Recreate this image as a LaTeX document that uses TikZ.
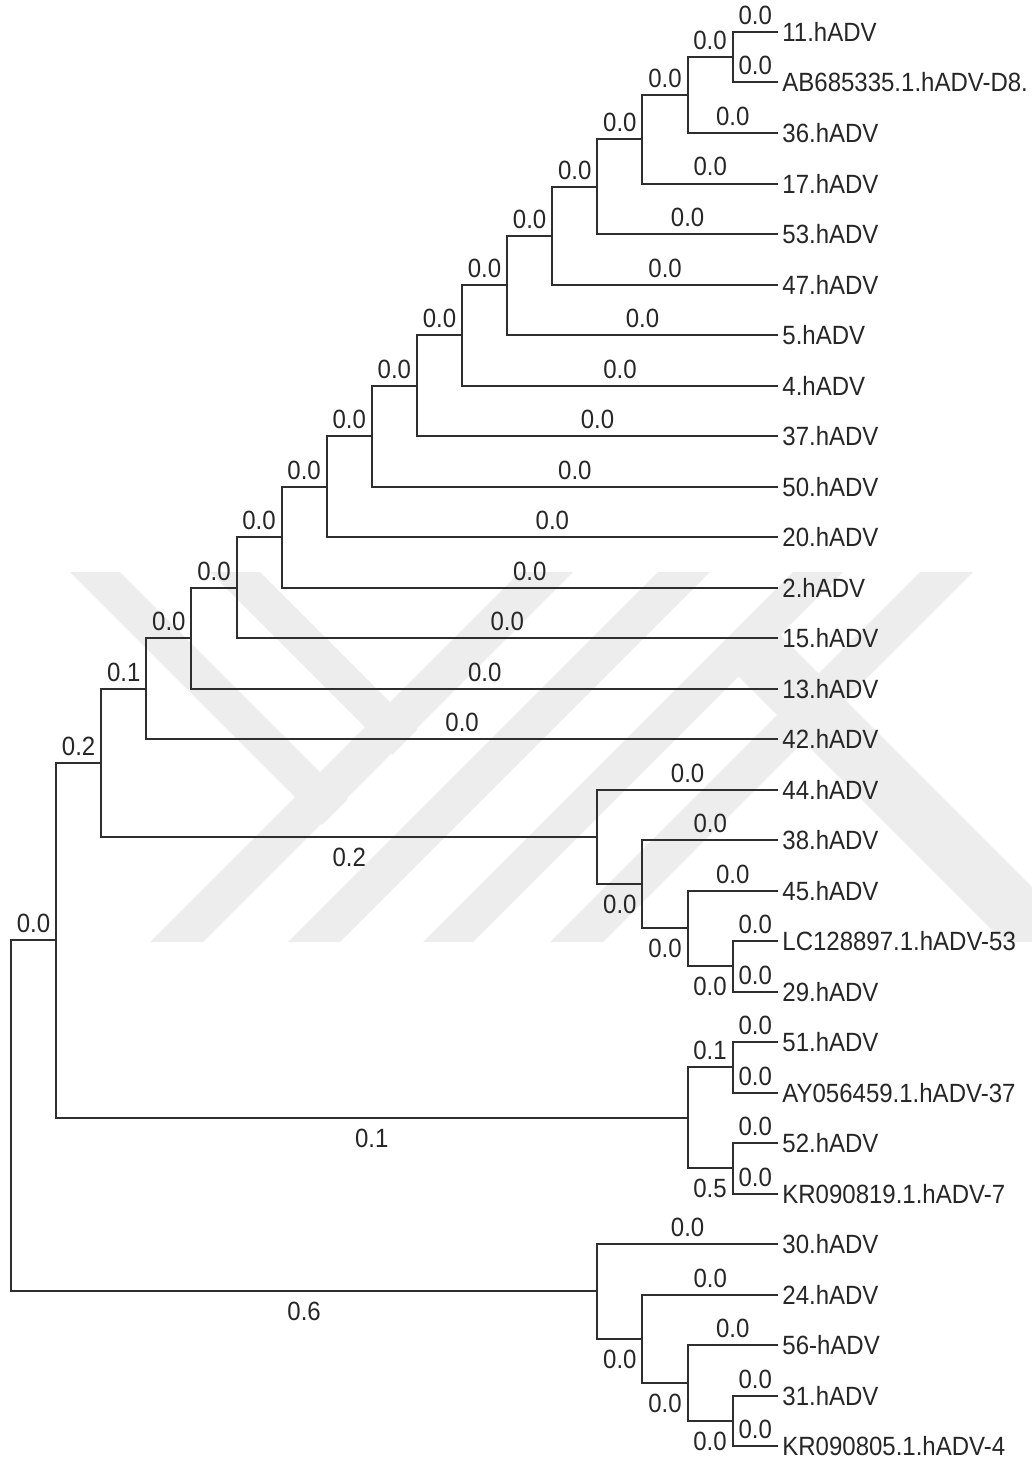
\documentclass[tikz,border=0pt]{standalone}
\usepackage{fontspec}
\usepackage{graphicx}
\setmainfont{Liberation Sans}
\newcommand\tx[1]{\scalebox{1}[1.1]{#1}}
\newcommand\mkleaf[3]{\coordinate (l#1) at (778,#2); \node[leaflbl] (t#1) at (782,#2+9.5) {\tx{#3}};}
\newcommand\lblup[4]{\node[brlbl] (#1) at (#2,#3-7.5) {\tx{#4}};}
\newcommand\lbldn[4]{\node[brlbl] (#1) at (#2,#3+29.5) {\tx{#4}};}
\begin{document}
\begin{tikzpicture}[x=0.5pt,y=-0.5pt,
  br/.style={line width=1pt, draw=black!82},
  leaflbl/.style={anchor=base west, inner sep=0pt, font=\fontsize{12}{14}\selectfont, text=black!85},
  brlbl/.style={anchor=base, inner sep=0pt, font=\fontsize{12}{14}\selectfont, text=black!85},
  wm/.style={fill=black!7, draw=none}]
\useasboundingbox (0,0) rectangle (1032,1461);
% watermark
\fill[wm] (70,572) -- (120,572) -- (347.5,799.5) -- (322.5,824.5) -- cycle;
\fill[wm] (210,572) -- (260,572) -- (417.5,729.5) -- (392.5,754.5) -- cycle;
\fill[wm] (150,942) -- (203,942) -- (573,572) -- (520,572) -- cycle;
\fill[wm] (288,942) -- (340,942) -- (710,572) -- (658,572) -- cycle;
\fill[wm] (423,942) -- (473,942) -- (843,572) -- (793,572) -- cycle;
\fill[wm] (550,942) -- (603,942) -- (973,572) -- (920,572) -- cycle;
\fill[wm] (738.5,676.5) -- (780,635) -- (1032,887) -- (1032,942) -- (1004,942) -- cycle;
% leaves
\mkleaf{0}{32}{11.hADV}
\mkleaf{1}{82.5}{AB685335.1.hADV-D8.}
\mkleaf{2}{133}{36.hADV}
\mkleaf{3}{183.5}{17.hADV}
\mkleaf{4}{234}{53.hADV}
\mkleaf{5}{284.5}{47.hADV}
\mkleaf{6}{335}{5.hADV}
\mkleaf{7}{385.5}{4.hADV}
\mkleaf{8}{436}{37.hADV}
\mkleaf{9}{486.5}{50.hADV}
\mkleaf{10}{537}{20.hADV}
\mkleaf{11}{587.5}{2.hADV}
\mkleaf{12}{638}{15.hADV}
\mkleaf{13}{688.5}{13.hADV}
\mkleaf{14}{739}{42.hADV}
\mkleaf{15}{789.5}{44.hADV}
\mkleaf{16}{840}{38.hADV}
\mkleaf{17}{890.5}{45.hADV}
\mkleaf{18}{941}{LC128897.1.hADV-53}
\mkleaf{19}{991.5}{29.hADV}
\mkleaf{20}{1042}{51.hADV}
\mkleaf{21}{1092.5}{AY056459.1.hADV-37}
\mkleaf{22}{1143}{52.hADV}
\mkleaf{23}{1193.5}{KR090819.1.hADV-7}
\mkleaf{24}{1244}{30.hADV}
\mkleaf{25}{1294.5}{24.hADV}
\mkleaf{26}{1345}{56-hADV}
\mkleaf{27}{1395.5}{31.hADV}
\mkleaf{28}{1446}{KR090805.1.hADV-4}
% internal nodes
\coordinate (A1) at (732.6,57.25);
\coordinate (A2) at (687.5,95.13);
\coordinate (A3) at (642.4,139.31);
\coordinate (A4) at (597.3,186.66);
\coordinate (A5) at (552.2,235.58);
\coordinate (A6) at (507.1,285.29);
\coordinate (A7) at (462,335.40);
\coordinate (A8) at (416.9,385.70);
\coordinate (A9) at (371.8,436.10);
\coordinate (A10) at (326.7,486.55);
\coordinate (A11) at (281.6,537.03);
\coordinate (A12) at (236.5,587.51);
\coordinate (A13) at (191.4,638.0);
\coordinate (A14) at (146.3,688.5);
\coordinate (B1) at (732.6,966.25);
\coordinate (B2) at (687.5,928.38);
\coordinate (B3) at (642.4,884.19);
\coordinate (B4) at (597.3,836.84);
\coordinate (C0) at (101.2,762.67);
\coordinate (D1) at (732.6,1067.25);
\coordinate (D2) at (732.6,1168.25);
\coordinate (D3) at (687.5,1117.75);
\coordinate (C1) at (56.1,940.21);
\coordinate (E1) at (732.6,1420.75);
\coordinate (E2) at (687.5,1382.88);
\coordinate (E3) at (642.4,1338.69);
\coordinate (E4) at (597.3,1291.34);
\coordinate (R) at (11,1115.78);
% branches
\draw[br] (l0) -| (A1) |- (l1);
\draw[br] (A1) -| (A2) |- (l2);
\draw[br] (A2) -| (A3) |- (l3);
\draw[br] (A3) -| (A4) |- (l4);
\draw[br] (A4) -| (A5) |- (l5);
\draw[br] (A5) -| (A6) |- (l6);
\draw[br] (A6) -| (A7) |- (l7);
\draw[br] (A7) -| (A8) |- (l8);
\draw[br] (A8) -| (A9) |- (l9);
\draw[br] (A9) -| (A10) |- (l10);
\draw[br] (A10) -| (A11) |- (l11);
\draw[br] (A11) -| (A12) |- (l12);
\draw[br] (A12) -| (A13) |- (l13);
\draw[br] (A13) -| (A14) |- (l14);
\draw[br] (l18) -| (B1) |- (l19);
\draw[br] (l17) -| (B2) |- (B1);
\draw[br] (l16) -| (B3) |- (B2);
\draw[br] (l15) -| (B4) |- (B3);
\draw[br] (A14) -| (C0) |- (B4);
\draw[br] (l20) -| (D1) |- (l21);
\draw[br] (l22) -| (D2) |- (l23);
\draw[br] (D1) -| (D3) |- (D2);
\draw[br] (C0) -| (C1) |- (D3);
\draw[br] (l27) -| (E1) |- (l28);
\draw[br] (l26) -| (E2) |- (E1);
\draw[br] (l25) -| (E3) |- (E2);
\draw[br] (l24) -| (E4) |- (E3);
\draw[br] (C1) -| (R) |- (E4);
% branch length labels: leaves
\lblup{v0}{755.3}{32}{0.0}
\lblup{v1}{755.3}{82.5}{0.0}
\lblup{v2}{732.75}{133}{0.0}
\lblup{v3}{710.2}{183.5}{0.0}
\lblup{v4}{687.65}{234}{0.0}
\lblup{v5}{665.1}{284.5}{0.0}
\lblup{v6}{642.55}{335}{0.0}
\lblup{v7}{620}{385.5}{0.0}
\lblup{v8}{597.45}{436}{0.0}
\lblup{v9}{574.9}{486.5}{0.0}
\lblup{v10}{552.35}{537}{0.0}
\lblup{v11}{529.8}{587.5}{0.0}
\lblup{v12}{507.25}{638}{0.0}
\lblup{v13}{484.7}{688.5}{0.0}
\lblup{v14}{462.15}{739}{0.0}
\lblup{v15}{687.65}{789.5}{0.0}
\lblup{v16}{710.2}{840}{0.0}
\lblup{v17}{732.75}{890.5}{0.0}
\lblup{v18}{755.3}{941}{0.0}
\lblup{v19}{755.3}{991.5}{0.0}
\lblup{v20}{755.3}{1042}{0.0}
\lblup{v21}{755.3}{1092.5}{0.0}
\lblup{v22}{755.3}{1143}{0.0}
\lblup{v23}{755.3}{1193.5}{0.0}
\lblup{v24}{687.65}{1244}{0.0}
\lblup{v25}{710.2}{1294.5}{0.0}
\lblup{v26}{732.75}{1345}{0.0}
\lblup{v27}{755.3}{1395.5}{0.0}
\lblup{v28}{755.3}{1446}{0.0}
% branch length labels: internal
\lblup{wA1}{710.05}{57.25}{0.0}
\lblup{wA2}{664.95}{95.13}{0.0}
\lblup{wA3}{619.85}{139.31}{0.0}
\lblup{wA4}{574.75}{186.66}{0.0}
\lblup{wA5}{529.65}{235.58}{0.0}
\lblup{wA6}{484.55}{285.29}{0.0}
\lblup{wA7}{439.45}{335.40}{0.0}
\lblup{wA8}{394.35}{385.70}{0.0}
\lblup{wA9}{349.25}{436.10}{0.0}
\lblup{wA10}{304.15}{486.55}{0.0}
\lblup{wA11}{259.05}{537.03}{0.0}
\lblup{wA12}{213.95}{587.51}{0.0}
\lblup{wA13}{168.85}{638.0}{0.0}
\lblup{wA14}{123.75}{688.5}{0.1}
\lblup{wC0}{78.65}{762.67}{0.2}
\lblup{wC1}{33.55}{940.21}{0.0}
\lblup{wD1}{710.05}{1067.25}{0.1}
\lbldn{wB4}{349.25}{836.84}{0.2}
\lbldn{wB3}{619.85}{884.19}{0.0}
\lbldn{wB2}{664.95}{928.38}{0.0}
\lbldn{wB1}{710.05}{966.25}{0.0}
\lbldn{wD3}{371.8}{1117.75}{0.1}
\lbldn{wD2}{710.05}{1168.25}{0.5}
\lbldn{wE4}{304.15}{1291.34}{0.6}
\lbldn{wE3}{619.85}{1338.69}{0.0}
\lbldn{wE2}{664.95}{1382.88}{0.0}
\lbldn{wE1}{710.05}{1420.75}{0.0}
\end{tikzpicture}
\end{document}
